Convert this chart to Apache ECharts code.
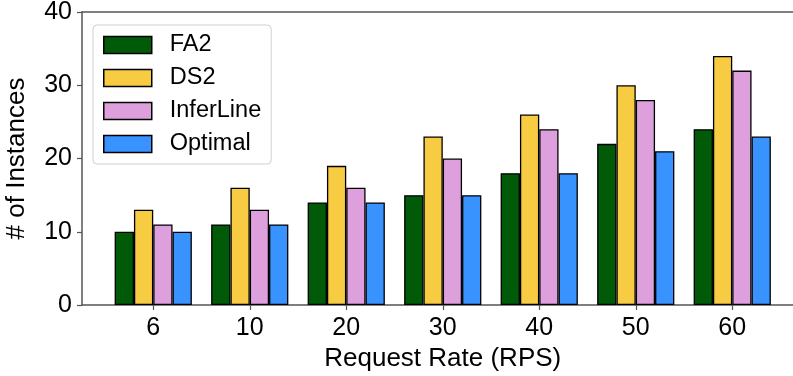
<!DOCTYPE html>
<html>
<head>
<meta charset="utf-8">
<script src="https://cdn.jsdelivr.net/npm/echarts@6/dist/echarts.min.js"></script>
<style>
html,body{margin:0;padding:0;background:#fff;}
#chart{width:793px;height:376px;}
</style>
</head>
<body>
<div id="chart"></div>
<script>
const categories = ['6', '10', '20', '30', '40', '50', '60'];
const fa2 = [10, 11, 14, 15, 18, 22, 24];
const ds2 = [13, 16, 19, 23, 26, 30, 34];
const inferLine = [11, 13, 16, 20, 24, 28, 32];
const optimal = [10, 11, 14, 15, 18, 21, 23];
const yTicks = [0, 10, 20, 30, 40];

const seriesNames = ['FA2', 'DS2', 'InferLine', 'Optimal'];
const seriesData = [fa2, ds2, inferLine, optimal];
const colors = ['#005a08', '#f7cb42', '#dda0dd', '#3993fe'];

const font = 'Liberation Sans, Arial, sans-serif';
const spine = '#555';

const chart = echarts.init(document.getElementById('chart'), null, {renderer: 'canvas'});
chart.setOption({
  animation: false,
  backgroundColor: '#fff',
  textStyle: {fontFamily: font},
  legend: {
    data: seriesNames,
    orient: 'vertical',
    left: 93, top: 25,
    padding: [8, 10, 8, 10],
    itemWidth: 48, itemHeight: 17, itemGap: 9,
    borderColor: '#d0d0d0', borderWidth: 1, borderRadius: 4,
    backgroundColor: 'rgba(255,255,255,0.8)',
    icon: 'rect',
    itemStyle: {borderColor: '#000', borderWidth: 1.5},
    textStyle: {fontSize: 23.5, color: '#000', fontFamily: font, padding: [0, 0, 0, 13], lineHeight: 17}
  },
  grid: [
    {left: 105, right: 12.5, top: 12, bottom: 71, outerBoundsMode: 'none', containLabel: false},
    {left: 82, right: -30, top: 12, bottom: 71, outerBoundsMode: 'none', containLabel: false}
  ],
  xAxis: [
    {
      gridIndex: 0, type: 'category', data: categories,
      axisLine: {show: false},
      axisTick: {show: true, alignWithLabel: true, length: 5, lineStyle: {color: spine, width: 1.2}},
      axisLabel: {fontSize: 25, color: '#000', fontFamily: font, margin: 11},
      name: 'Request Rate (RPS)', nameLocation: 'middle', nameGap: 38,
      nameTextStyle: {fontSize: 26, color: '#000', fontFamily: font, verticalAlign: 'top'}
    },
    {
      gridIndex: 1, type: 'value', min: 0, max: 1, position: 'bottom',
      axisLine: {show: true, onZero: false, lineStyle: {color: spine, width: 1.5}},
      axisTick: {show: false}, axisLabel: {show: false}, splitLine: {show: false}
    },
    {
      gridIndex: 1, type: 'value', min: 0, max: 1, position: 'top',
      axisLine: {show: true, onZero: false, lineStyle: {color: spine, width: 1.5}},
      axisTick: {show: false}, axisLabel: {show: false}, splitLine: {show: false}
    }
  ],
  yAxis: [
    {gridIndex: 0, type: 'value', min: yTicks[0], max: yTicks[yTicks.length - 1], interval: 10, show: false},
    {
      gridIndex: 1, type: 'value', min: yTicks[0], max: yTicks[yTicks.length - 1], interval: 10,
      axisLine: {show: true, onZero: false, lineStyle: {color: spine, width: 1.5}},
      axisTick: {show: true, length: 5, lineStyle: {color: spine, width: 1.2}},
      axisLabel: {fontSize: 25, color: '#000', fontFamily: font, margin: 10},
      splitLine: {show: false},
      name: '# of Instances', nameLocation: 'middle', nameGap: 52,
      nameTextStyle: {fontSize: 26, color: '#000', fontFamily: font}
    }
  ],
  series: seriesNames.map((name, i) => ({
    name: name,
    type: 'bar',
    xAxisIndex: 0, yAxisIndex: 0,
    data: seriesData[i],
    barGap: '0%',
    barCategoryGap: '20%',
    itemStyle: {color: colors[i], borderColor: '#000', borderWidth: 1.3}
  }))
});
</script>
</body>
</html>
